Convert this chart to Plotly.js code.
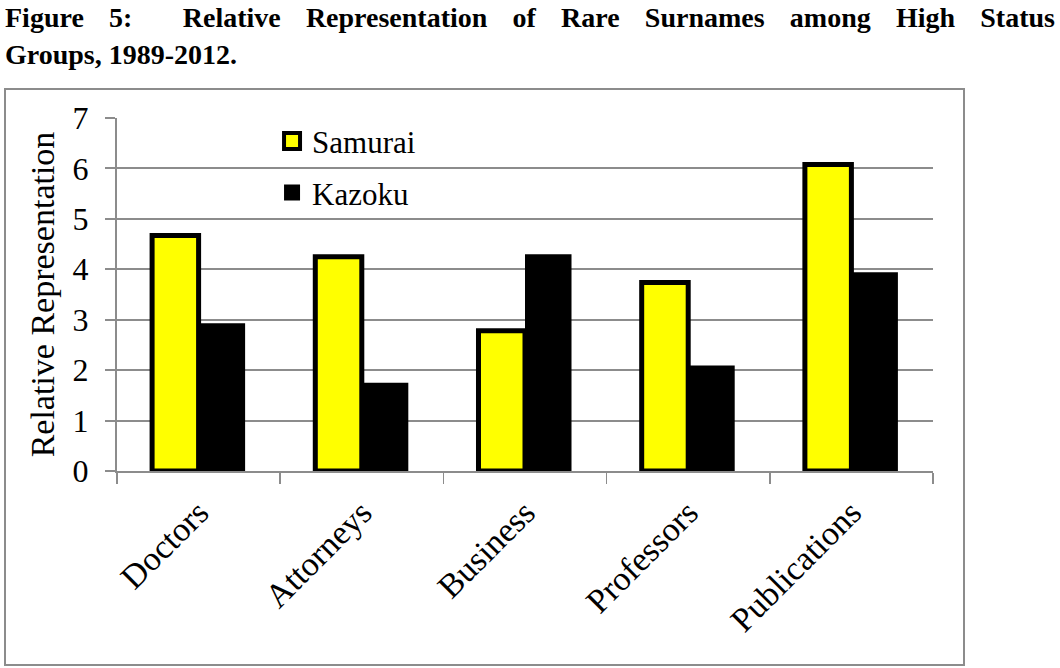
<!DOCTYPE html>
<html>
<head>
<meta charset="utf-8">
<script src="https://cdn.plot.ly/plotly-3.0.1.min.js"></script>
<style>
  html, body { margin: 0; padding: 0; background: #fff; }
  #wrap { position: relative; width: 1060px; height: 668px; overflow: hidden; }
  #title {
    position: absolute; left: 5px; top: -1px; width: 1050px;
    font-family: "Liberation Serif", serif; font-weight: bold; font-size: 28px;
    line-height: 37px; color: #000;
  }
  #title .l1 { text-align: justify; text-align-last: justify; white-space: nowrap; }
  #frame {
    position: absolute; left: 4px; top: 88px; width: 957px; height: 574px;
    border: 2px solid #8c8c8c;
  }
  #chart { position: absolute; left: 0; top: 0; width: 1060px; height: 668px; }
</style>
</head>
<body>
<div id="wrap">
  <div id="title">
    <div class="l1">Figure&nbsp;5:&nbsp; Relative Representation of Rare Surnames among High Status</div>
    <div>Groups, 1989-2012.</div>
  </div>
  <div id="frame"></div>
  <div id="chart"></div>
</div>
<script>
/* ─── Data ───────────────────────────────────────────────────────────────── */
const groups  = ["Doctors", "Attorneys", "Business", "Professors", "Publications"];
const samurai = [4.67, 4.25, 2.78, 3.74, 6.08];
const kazoku  = [2.93, 1.75, 4.30, 2.09, 3.94];
const yTicks  = [0, 1, 2, 3, 4, 5, 6, 7];

const FONT = "Liberation Serif";
const GRID = "#8c8c8c";

const traces = [
  { type: "bar", name: "Samurai", x: groups, y: samurai, showlegend: false,
    marker: { color: "#FFFF00", line: { color: "#000", width: 5 } } },
  { type: "bar", name: "Kazoku", x: groups, y: kazoku, showlegend: false,
    marker: { color: "#000", line: { color: "#000", width: 0 } } },
  // legend-only entries (bigger swatches than the bar legend gives)
  { type: "scatter", mode: "markers", name: "Samurai", legendgroup: "s", x: [null], y: [null],
    marker: { symbol: "square", size: 16, color: "#FFFF00", line: { color: "#000", width: 4 } } },
  { type: "scatter", mode: "markers", name: "Kazoku", legendgroup: "k", x: [null], y: [null],
    marker: { symbol: "square", size: 16, color: "#000", line: { color: "#000", width: 0 } } },
];

const layout = {
  width: 1060, height: 668,
  margin: { l: 117, r: 127, t: 118, b: 197 },
  paper_bgcolor: "rgba(0,0,0,0)", plot_bgcolor: "rgba(0,0,0,0)",
  font: { family: FONT, color: "#000", size: 30 },
  barmode: "group", bargap: 0.43, bargroupgap: 0,
  xaxis: {
    type: "category", categoryarray: groups, categoryorder: "array",
    showgrid: false, showline: true, linecolor: GRID, linewidth: 2,
    ticks: "outside", tickson: "boundaries", ticklen: 11, tickwidth: 1.5, tickcolor: GRID,
    tickangle: -45, ticklabelstandoff: 6,
    tickfont: { size: 34, family: FONT, color: "#000" },
    fixedrange: true,
  },
  yaxis: {
    range: [0, 7], tickvals: yTicks, ticktext: yTicks.map(String),
    showgrid: true, gridcolor: GRID, gridwidth: 2, zeroline: false,
    showline: true, linecolor: GRID, linewidth: 2,
    ticks: "outside", ticklen: 10, tickwidth: 2, tickcolor: GRID,
    ticklabelstandoff: 10,
    tickfont: { size: 32, family: FONT, color: "#000" },
    title: { text: "Relative Representation", font: { size: 34, family: FONT, color: "#000" }, standoff: 8 },
    fixedrange: true,
  },
  legend: {
    x: 0.19, y: 1.01, xanchor: "left", yanchor: "top",
    bgcolor: "rgba(0,0,0,0)", font: { size: 31, family: FONT, color: "#000" },
    itemwidth: 30, tracegroupgap: 8,
  },
};

Plotly.newPlot("chart", traces, layout, { displayModeBar: false, staticPlot: true });
</script>
</body>
</html>
